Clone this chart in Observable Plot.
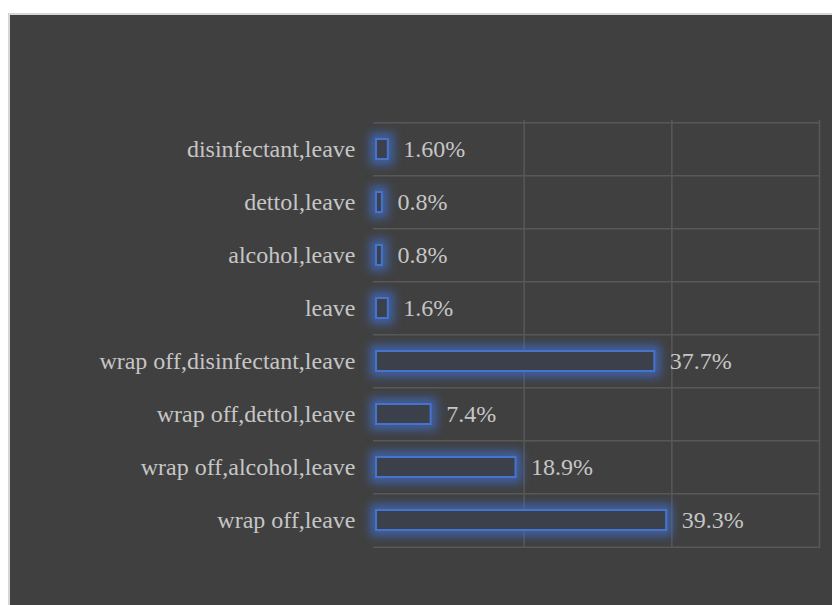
<!DOCTYPE html>
<html>
<head>
<meta charset="utf-8">
<script src="https://cdn.jsdelivr.net/npm/d3@7"></script>
<script src="https://cdn.jsdelivr.net/npm/@observablehq/plot@0.6"></script>
<style>
  html, body { margin: 0; padding: 0; background: #ffffff; }
  #panel {
    position: absolute; left: 8px; top: 13px; width: 824px; height: 592px;
    box-sizing: border-box; background: #404040;
    border-top: 2px solid #d6d6d6; border-left: 2px solid #d6d6d6;
  }
  #chart { position: absolute; left: 0; top: 0; }
  #chart svg text { font-family: "Liberation Serif", Tinos, "Times New Roman", "DejaVu Serif", serif !important; }
</style>
</head>
<body>
<div id="panel"></div>
<div id="chart"></div>
<script>
const categories = [
  "disinfectant,leave",
  "dettol,leave",
  "alcohol,leave",
  "leave",
  "wrap off,disinfectant,leave",
  "wrap off,dettol,leave",
  "wrap off,alcohol,leave",
  "wrap off,leave"
];
const values = [1.6, 0.8, 0.8, 1.6, 37.7, 7.4, 18.9, 39.3];
const valueLabels = ["1.60%", "0.8%", "0.8%", "1.6%", "37.7%", "7.4%", "18.9%", "39.3%"];
const xTicks = [0, 20, 40, 60];

const data = categories.map((c, i) => ({category: c, value: values[i], label: valueLabels[i]}));

const W = 832, H = 605;
const mTop = 120, mBottom = 57, mLeft = 376, mRight = 13;
const step = (H - mTop - mBottom) / categories.length;
const gridColor = "#585858";
const textColor = "#c6c6c6";
const barColor = "#4674cc";

const chart = Plot.plot({
  width: W,
  height: H,
  marginTop: mTop,
  marginBottom: mBottom,
  marginLeft: mLeft,
  marginRight: mRight,
  style: {background: "transparent", fontSize: "24px", color: textColor},
  x: {domain: [0, 60], axis: null},
  y: {domain: categories, paddingInner: 0.63, paddingOuter: 0.315, axis: null},
  marks: [
    Plot.ruleX(xTicks.slice(1), {stroke: gridColor, strokeWidth: 1.5}),
    Plot.ruleY(categories, {y: d => d, dy: -step / 2, x1: 0, x2: 60, stroke: gridColor, strokeWidth: 1.5, insetLeft: -3}),
    Plot.ruleY(categories.slice(-1), {y: d => d, dy: step / 2, x1: 0, x2: 60, stroke: gridColor, strokeWidth: 1.5, insetLeft: -3}),
    Plot.barX(data, {x: "value", y: "category", fill: "none", stroke: "#3f6fd0", strokeWidth: 12, strokeOpacity: 0.7}),
    Plot.barX(data, {x: "value", y: "category", fill: "#3c404a", stroke: barColor, strokeWidth: 2}),
    Plot.text(data, {x: "value", y: "category", text: "label", textAnchor: "start", dx: 15, fill: textColor, fontSize: 24}),
    Plot.text(data, {x: 0, y: "category", text: "category", textAnchor: "end", dx: -21, fill: textColor, fontSize: 24})
  ]
});
document.getElementById("chart").appendChild(chart);
// soft glow on the first bar layer
const barGroups = chart.querySelectorAll('g[aria-label="bar"]');
if (barGroups.length) barGroups[0].style.filter = "blur(5px)";
</script>
</body>
</html>
